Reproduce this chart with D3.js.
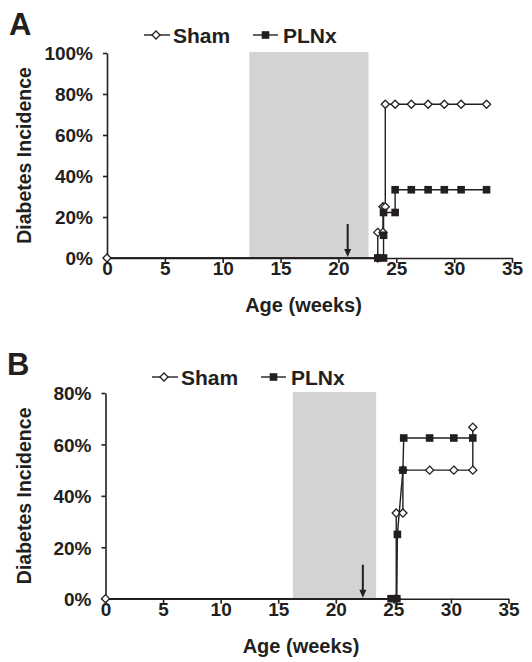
<!DOCTYPE html>
<html>
<head>
<meta charset="utf-8">
<script src="https://cdn.jsdelivr.net/npm/d3@7"></script>
<style>
  body { margin: 0; background: #fff; }
  svg text { font-family: "Liberation Sans", Arial, sans-serif; font-weight: bold; fill: #231f20; }
</style>
</head>
<body>
<div id="chart"></div>
<script>
// x ticks shared by both panels
const weekTicks = [0, 5, 10, 15, 20, 25, 30, 35]

// panel A
const shamWeeksA = [0, 23.4, 23.4, 23.85, 23.85, 24.05, 24.05, 24.9, 26.3, 27.75, 29.15, 30.6, 32.8]
const shamPctA   = [0, 0, 12.5, 12.5, 25, 25, 75, 75, 75, 75, 75, 75, 75]
const plnxWeeksA = [0, 23.4, 23.9, 23.9, 23.9, 24.9, 24.9, 26.3, 27.75, 29.15, 30.6, 32.8]
const plnxPctA   = [0, 0, 0, 11.1, 22.2, 22.2, 33.3, 33.3, 33.3, 33.3, 33.3, 33.3]
const pctTicksA  = [0, 20, 40, 60, 80, 100]
const shadeA     = [12.3, 22.6]   // weeks
const arrowA     = 20.8

// panel B
const shamWeeksB = [0, 25.25, 25.25, 25.83, 25.83, 28.15, 30.25, 31.9, 31.9]
const shamPctB   = [0, 0, 33.3, 33.3, 50, 50, 50, 50, 66.7]
const plnxWeeksB = [0, 24.8, 25.3, 25.35, 25.83, 25.9, 28.15, 30.25, 31.9]
const plnxPctB   = [0, 0, 0, 25, 50, 62.5, 62.5, 62.5, 62.5]
const pctTicksB  = [0, 20, 40, 60, 80]
const shadeB     = [16.27, 23.5]
const arrowB     = 22.35

const ink = '#231f20'
const shade = '#d1d3d4'

var svg = d3.select('#chart').append('svg')
  .attr('width', 532)
  .attr('height', 662)

function zip(xs, ys) {
  return xs.map(function(x, i) { return {x: x, y: ys[i]} })
}

function drawPanel(p) {
  var g = svg.append('g')
  var x = d3.scaleLinear().domain([0, 35]).range([p.left, p.right])
  var y = d3.scaleLinear().domain([0, p.yMax]).range([p.bottom, p.top])

  // shaded window
  g.append('rect')
    .attr('x', x(p.shade[0]))
    .attr('y', y(p.yMax) - 1)
    .attr('width', x(p.shade[1]) - x(p.shade[0]))
    .attr('height', y(0) - y(p.yMax) + 1)
    .attr('fill', shade)

  // axes
  g.append('g')
    .attr('transform', 'translate(0,' + p.bottom + ')')
    .call(d3.axisBottom(x).tickValues(weekTicks).tickSize(5).tickSizeOuter(0).tickPadding(-1))
  var yAxis = g.append('g')
    .attr('transform', 'translate(' + p.left + ',0)')
    .call(d3.axisLeft(y).tickValues(p.yTicks).tickSize(4).tickSizeOuter(0).tickPadding(10)
      .tickFormat(function(d) { return d + '%' }))
  g.selectAll('.domain, .tick line').attr('stroke', ink).attr('stroke-width', 1.6)
  g.selectAll('.tick text').attr('fill', ink).style('font-size', '19px')
  yAxis.selectAll('.tick text').attr('dy', '0.36em')

  // arrow
  var ax = x(p.arrow)
  g.append('line')
    .attr('x1', ax).attr('x2', ax)
    .attr('y1', p.bottom - 34).attr('y2', p.bottom - 6)
    .attr('stroke', ink).attr('stroke-width', 2)
  g.append('path')
    .attr('d', 'M' + (ax - 3.5) + ',' + (p.bottom - 9) + 'L' + (ax + 3.5) + ',' + (p.bottom - 9) + 'L' + ax + ',' + (p.bottom - 1) + 'Z')
    .attr('fill', ink)

  var line = d3.line().x(function(d) { return x(d.x) }).y(function(d) { return y(d.y) })

  var sham = zip(p.shamWeeks, p.shamPct)
  var plnx = zip(p.plnxWeeks, p.plnxPct)

  g.append('path').datum(sham).attr('d', line)
    .attr('fill', 'none').attr('stroke', ink).attr('stroke-width', 1.4)
  g.append('path').datum(plnx).attr('d', line)
    .attr('fill', 'none').attr('stroke', ink).attr('stroke-width', 1.4)

  g.selectAll('.sham').data(sham).enter().append('path')
    .attr('class', 'sham')
    .attr('transform', function(d) { return 'translate(' + x(d.x) + ',' + y(d.y) + ')' })
    .attr('d', d3.symbol().type(d3.symbolDiamond2).size(42)())
    .attr('fill', '#fff').attr('stroke', ink).attr('stroke-width', 1.3)

  g.selectAll('.plnx').data(plnx.filter(function(d, i) { return i > 0 })).enter().append('rect')
    .attr('class', 'plnx')
    .attr('x', function(d) { return x(d.x) - 3.8 })
    .attr('y', function(d) { return y(d.y) - 3.8 })
    .attr('width', 7.6).attr('height', 7.6)
    .attr('fill', ink)

  // legend
  var ly = p.legendY
  g.append('line').attr('x1', p.legendX).attr('x2', p.legendX + 26)
    .attr('y1', ly).attr('y2', ly).attr('stroke', ink).attr('stroke-width', 1.4)
  g.append('path')
    .attr('transform', 'translate(' + (p.legendX + 12) + ',' + ly + ')')
    .attr('d', d3.symbol().type(d3.symbolDiamond2).size(42)())
    .attr('fill', '#fff').attr('stroke', ink).attr('stroke-width', 1.3)
  g.append('text').attr('x', p.legendX + 29).attr('y', ly + 7.5)
    .style('font-size', '21px').text('Sham')

  var px = p.legendX + 109
  g.append('line').attr('x1', px).attr('x2', px + 25)
    .attr('y1', ly).attr('y2', ly).attr('stroke', ink).attr('stroke-width', 1.4)
  g.append('rect').attr('x', px + 8.7).attr('y', ly - 3.8)
    .attr('width', 7.6).attr('height', 7.6).attr('fill', ink)
  g.append('text').attr('x', px + 30).attr('y', ly + 7.5)
    .style('font-size', '21px').text('PLNx')

  // titles
  g.append('text')
    .attr('text-anchor', 'middle')
    .attr('x', (p.left + p.right) / 2 - 6)
    .attr('y', p.bottom + 54)
    .style('font-size', '20px')
    .text('Age (weeks)')

  g.append('text')
    .attr('text-anchor', 'middle')
    .attr('transform', 'translate(31,' + ((p.top + p.bottom) / 2) + ') rotate(-90)')
    .style('font-size', '19.5px')
    .text('Diabetes Incidence')

  g.append('text')
    .attr('x', p.letterX).attr('y', p.letterY)
    .style('font-size', '31px')
    .text(p.letter)
}

drawPanel({
  letter: 'A', letterX: 9, letterY: 35,
  left: 107, right: 512, top: 53, bottom: 258, yMax: 100,
  yTicks: pctTicksA, shade: shadeA, arrow: arrowA,
  shamWeeks: shamWeeksA, shamPct: shamPctA,
  plnxWeeks: plnxWeeksA, plnxPct: plnxPctA,
  legendX: 144, legendY: 35
})

drawPanel({
  letter: 'B', letterX: 7, letterY: 375,
  left: 105.5, right: 508.5, top: 393, bottom: 598.7, yMax: 80,
  yTicks: pctTicksB, shade: shadeB, arrow: arrowB,
  shamWeeks: shamWeeksB, shamPct: shamPctB,
  plnxWeeks: plnxWeeksB, plnxPct: plnxPctB,
  legendX: 152, legendY: 377
})
</script>
</body>
</html>
